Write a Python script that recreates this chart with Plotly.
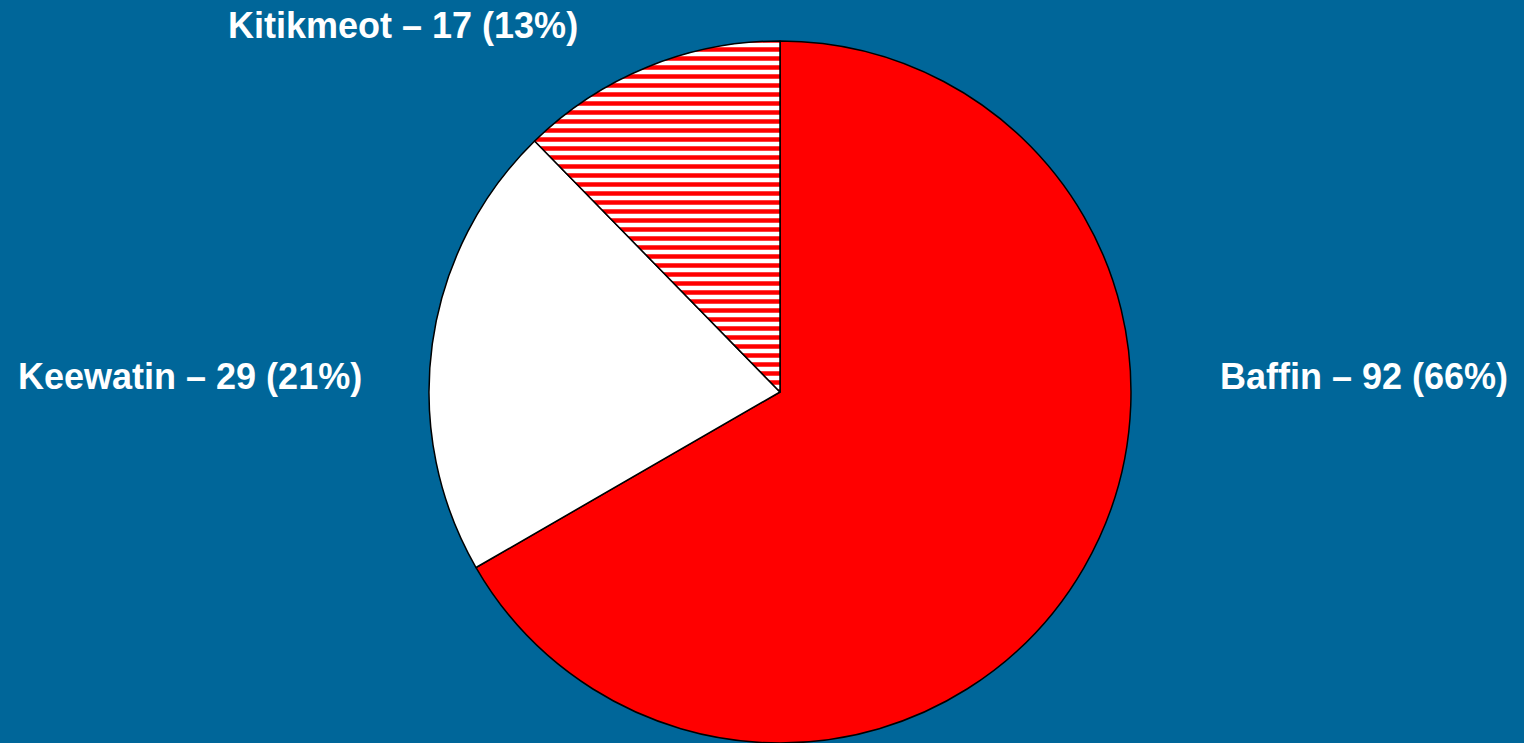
import plotly.graph_objects as go

regions = ["Baffin", "Keewatin", "Kitikmeot"]
counts = [92, 29, 17]
percents = [66, 21, 13]

W, H = 1524, 743
BG = "#006699"

fig = go.Figure()
fig.add_trace(go.Pie(
    labels=regions,
    values=counts,
    sort=False,
    direction="clockwise",
    rotation=0,
    textinfo="none",
    hoverinfo="label+value+percent",
    showlegend=False,
    marker=dict(
        colors=["#ff0000", "#ffffff", "#ffffff"],
        line=dict(color="#000000", width=1.5),
        pattern=dict(
            shape=["", "", "-"],
            fgcolor="#ff0000",
            bgcolor="#ffffff",
            size=9,
            solidity=0.5,
        ),
    ),
    domain=dict(x=[429 / W, 1131 / W], y=[0, (H - 41) / H]),
))

label_pos = {
    "Baffin": (1364, 376),
    "Keewatin": (190, 376),
    "Kitikmeot": (403, 25),
}
for r, c, p in zip(regions, counts, percents):
    px, py = label_pos[r]
    fig.add_annotation(
        x=px / W, y=1 - py / H, xref="paper", yref="paper",
        text=f"<b>{r} – {c} ({p}%)</b>",
        showarrow=False, xanchor="center", yanchor="middle",
        font=dict(family="Liberation Sans, Arial", size=36, color="#ffffff"),
    )

fig.update_layout(
    width=W, height=H,
    margin=dict(l=0, r=0, t=0, b=0),
    paper_bgcolor=BG, plot_bgcolor=BG,
)
fig.write_html(
    "out.html",
    config={"displayModeBar": False},
    post_script="document.body.style.margin='0';document.body.style.background='#006699';",
)
